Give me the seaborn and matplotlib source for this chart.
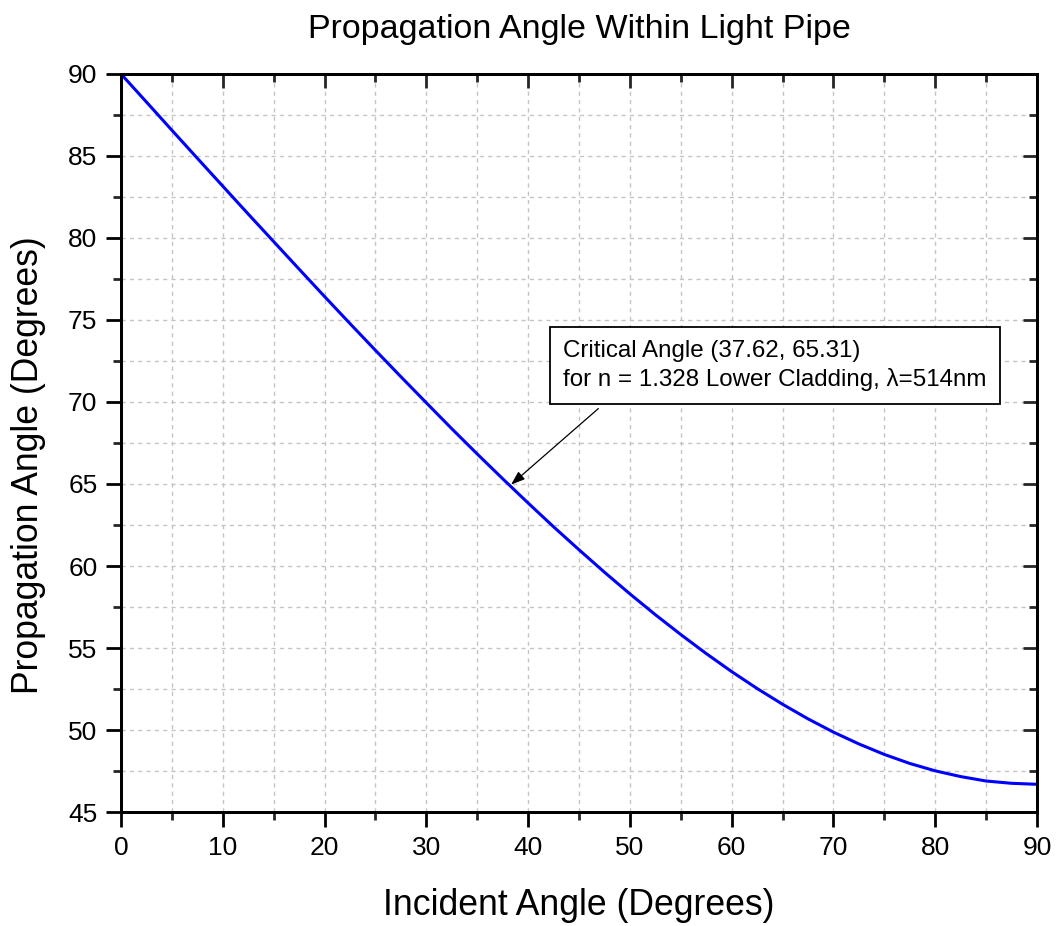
import matplotlib
matplotlib.use("Agg")
import matplotlib.pyplot as plt
from matplotlib.ticker import MultipleLocator, NullFormatter
import seaborn as sns
import pandas as pd

incident_angle = [0, 2.5, 5, 7.5, 10, 12.5, 15, 17.5, 20, 22.5, 25, 27.5, 30, 32.5, 35, 37.5,
                  40, 42.5, 45, 47.5, 50, 52.5, 55, 57.5, 60, 62.5, 65, 67.5, 70, 72.5, 75,
                  77.5, 80, 82.5, 85, 87.5, 90]
propagation_angle = [90.0, 88.29, 86.57, 84.86, 83.16, 81.46, 79.78, 78.10, 76.43, 74.78,
                     73.15, 71.54, 69.95, 68.37, 66.83, 65.32, 63.84, 62.39, 60.99, 59.62,
                     58.30, 57.03, 55.82, 54.66, 53.56, 52.53, 51.57, 50.68, 49.87, 49.15,
                     48.51, 47.96, 47.51, 47.16, 46.89, 46.75, 46.69]
critical_point = (37.62, 65.31)
annotation_lines = ["Critical Angle (37.62, 65.31)",
                    "for n = 1.328 Lower Cladding, \u03bb=514nm"]

sns.set_theme(style="ticks")
plt.rcParams['font.family'] = ['Liberation Sans', 'DejaVu Sans']

df = pd.DataFrame({"x": incident_angle, "y": propagation_angle})

fig = plt.figure(figsize=(10.57, 9.26), dpi=100)
ax = fig.add_axes([0.1145, 0.1231, 0.8666, 0.7970])

sns.lineplot(data=df, x="x", y="y", ax=ax, color="#0000ff", linewidth=2.2, zorder=3)

ax.set_xlim(0, 90)
ax.set_ylim(45, 90)
ax.xaxis.set_major_locator(MultipleLocator(10))
ax.xaxis.set_minor_locator(MultipleLocator(5))
ax.yaxis.set_major_locator(MultipleLocator(5))
ax.yaxis.set_minor_locator(MultipleLocator(2.5))

ax.grid(True, which="both", linestyle=(0, (3, 3)), color="#c4c4c4", linewidth=1.0)
ax.set_axisbelow(True)

for s in ax.spines.values():
    s.set_linewidth(2.0)
    s.set_color("black")
    s.set_visible(True)

ax.tick_params(which="major", direction="out", length=11, width=2.0, labelsize=19,
               colors="black", pad=6, top=False, right=False)
ax.tick_params(which="minor", direction="out", length=5.5, width=2.0, top=False, right=False)

# inward ticks on top and right
axt = ax.twiny()
axt.set_xlim(ax.get_xlim())
axt.xaxis.set_major_locator(MultipleLocator(10))
axt.xaxis.set_minor_locator(MultipleLocator(5))
axt.xaxis.set_major_formatter(NullFormatter())
axt.tick_params(axis="x", which="major", direction="in", length=10, width=2.0, top=True,
                bottom=False, labeltop=False)
axt.tick_params(axis="x", which="minor", direction="in", length=5.5, width=2.0, top=True,
                bottom=False)
axt.grid(False)
axr = ax.twinx()
axr.set_ylim(ax.get_ylim())
axr.yaxis.set_major_locator(MultipleLocator(5))
axr.yaxis.set_minor_locator(MultipleLocator(2.5))
axr.yaxis.set_major_formatter(NullFormatter())
axr.tick_params(axis="y", which="major", direction="in", length=10, width=2.0, right=True,
                left=False, labelright=False)
axr.tick_params(axis="y", which="minor", direction="in", length=5.5, width=2.0, right=True,
                left=False)
axr.grid(False)
for a in (axt, axr):
    for s in a.spines.values():
        s.set_linewidth(2.0)
        s.set_color("black")

ax.set_xlabel("Incident Angle (Degrees)", fontsize=25.7, color="black")
ax.xaxis.set_label_coords(0.5, -0.103)
ax.set_ylabel("Propagation Angle (Degrees)", fontsize=25.6, color="black")
ax.yaxis.set_label_coords(-0.082, 0.470)
ax.set_title("Propagation Angle Within Light Pipe", fontsize=24.5, pad=26, color="black")

ax.text(43.43, 72.22, "\n".join(annotation_lines), fontsize=17.4, ha="left", va="center",
        linespacing=1.3, color="black", zorder=5,
        bbox=dict(boxstyle="square,pad=0.55", facecolor="white", edgecolor="black", linewidth=1.3))

ax.annotate("", xy=(critical_point[0] + 0.7, critical_point[1] - 0.35), xytext=(46.9, 69.6),
            arrowprops=dict(arrowstyle="-|>,head_length=0.7,head_width=0.25",
                            color="black", linewidth=0.9, shrinkA=0, shrinkB=0), zorder=5)

fig.savefig("out.png", dpi=100)
